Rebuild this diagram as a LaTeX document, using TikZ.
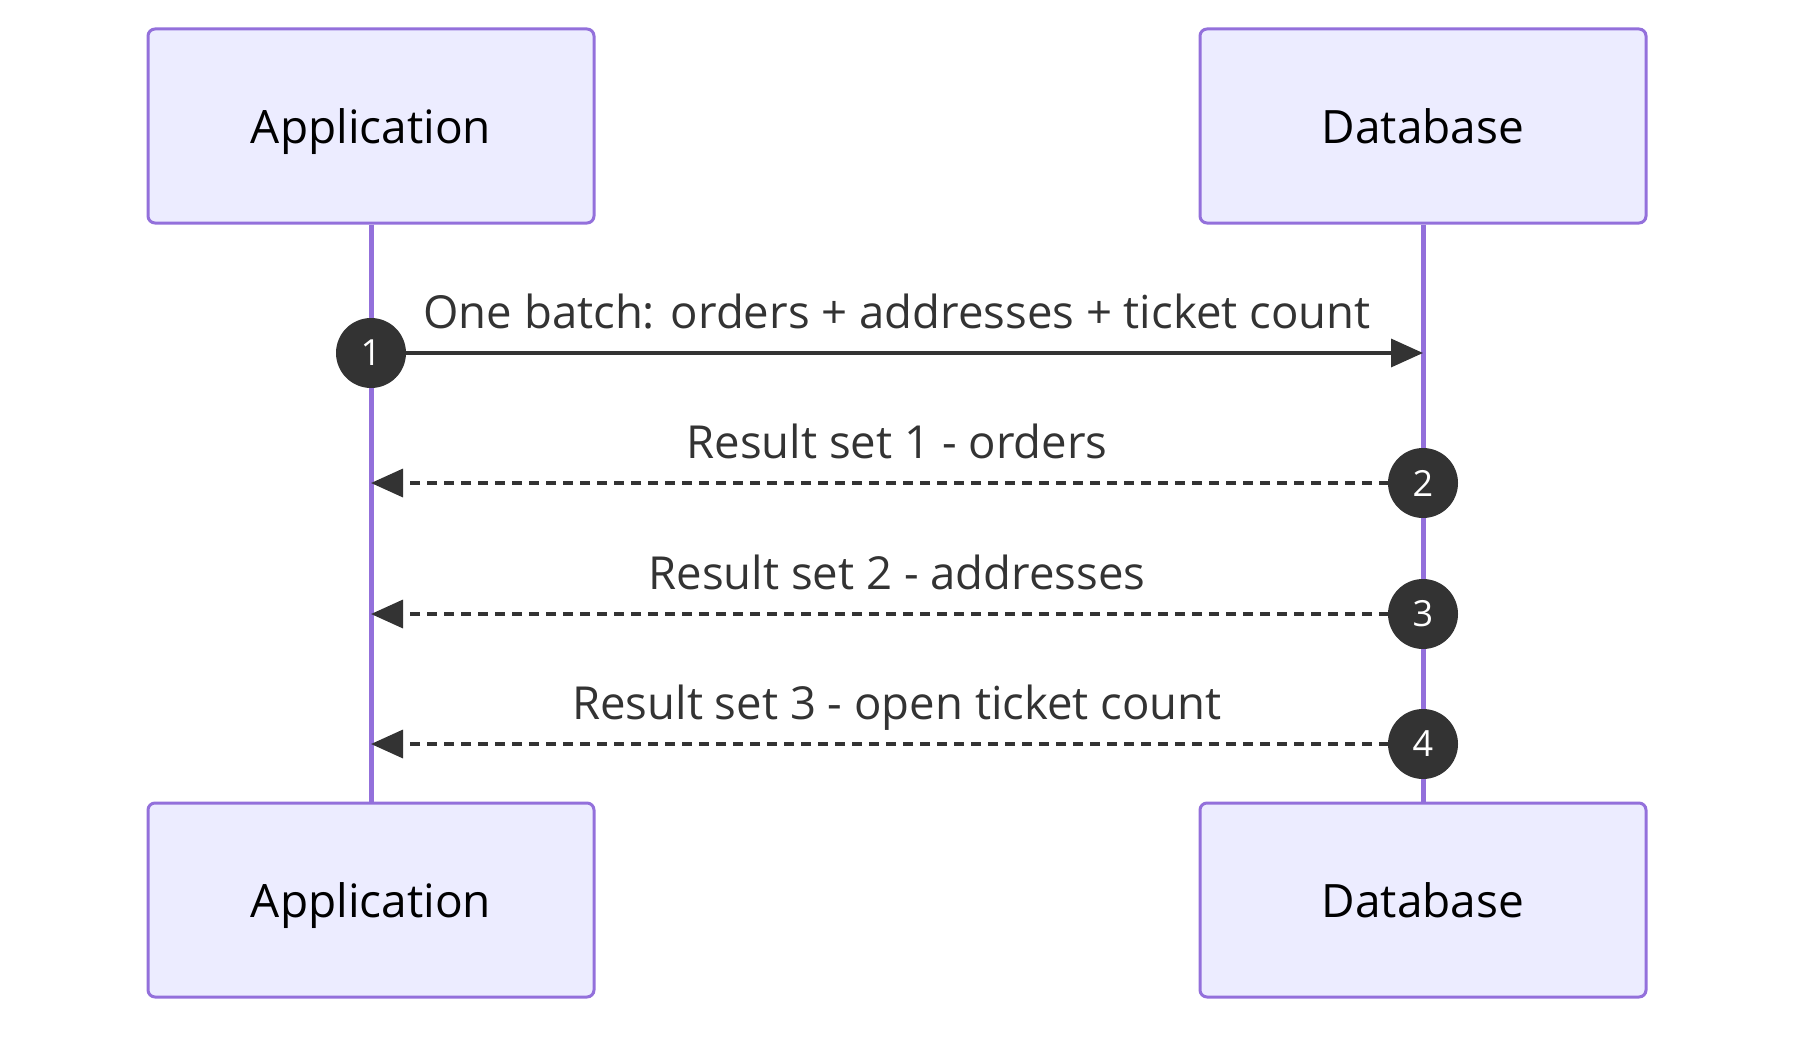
\documentclass[tikz,border=0pt]{standalone}
\usepackage{fontspec}
\setmainfont{Open Sans}
\usetikzlibrary{arrows.meta}
\definecolor{actfill}{HTML}{ECECFF}
\definecolor{actline}{HTML}{9370DB}
\definecolor{msg}{HTML}{333333}
\tikzset{
  actor/.style={draw=actline, fill=actfill, line width=3pt, rounded corners=7pt,
    minimum width=446pt, minimum height=194pt, text depth=0pt,
    font=\fontsize{46}{52}\selectfont},
  life/.style={draw=actline, line width=5pt},
  call/.style={draw=msg, line width=3.5pt, -{Triangle[length=32pt,width=28pt]}},
  reply/.style={call, dash pattern=on 10pt off 7pt},
  num/.style={circle, fill=msg, text=white, minimum size=70pt, inner sep=0pt,
    font=\fontsize{36}{40}\selectfont},
  lbl/.style={text=msg, text depth=0pt, font=\fontsize{45.5}{50}\selectfont}
}
\begin{document}
\begin{tikzpicture}[x=1pt, y=-1pt]
\useasboundingbox (0, 0) rectangle (1815, 1041);
\node[actor] (apptop) at (371, 126) {Application};
\node[actor] (dbtop) at (1423, 126) {Database};
\node[actor] (appbot) at (371, 900) {Application};
\node[actor] (dbbot) at (1423, 900) {Database};
\draw[life] (apptop) -- (appbot);
\draw[life] (dbtop) -- (dbbot);
% messages
\coordinate (a1) at (371, 353);
\coordinate (d1) at (1423, 353);
\draw[call] (a1) -- (d1);
\node[lbl] at (897, 311) {One batch: orders + addresses + ticket count};
\node[num] (n1) at (a1) {1};
\foreach \i/\y/\t in {2/483/Result set 1 - orders, 3/614/Result set 2 - addresses, 4/744/Result set 3 - open ticket count} {
  \coordinate (a\i) at (371, \y);
  \coordinate (d\i) at (1423, \y);
  \draw[reply] (d\i) -- (a\i);
  \node[lbl] at (897, \y-42) {\t};
  \node[num] (n\i) at (d\i) {\i};
}
\end{tikzpicture}
\end{document}
